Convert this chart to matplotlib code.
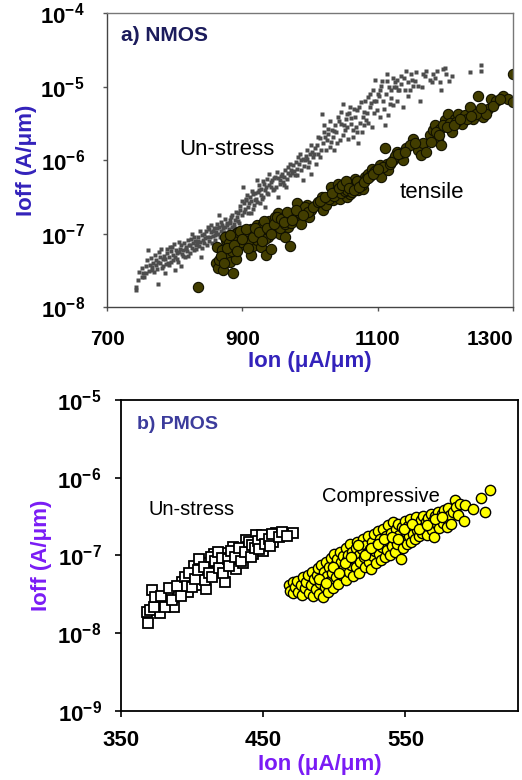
import numpy as np
import matplotlib
matplotlib.use('Agg')
import matplotlib.pyplot as plt

plt.rcParams['font.family'] = ['Liberation Sans', 'DejaVu Sans']
plt.rcParams['mathtext.fontset'] = 'custom'
plt.rcParams['mathtext.rm'] = 'Liberation Sans'
plt.rcParams['mathtext.bf'] = 'Liberation Sans:bold'

# ---------------- data (Ion in uA/um, Ioff in A/um) ----------------
# a) NMOS, un-stressed devices (small grey squares)
nmos_unstress = [
    (743, 1.72e-8), (743, 1.9e-8), (746, 2.35e-8), (751, 2.6e-8), (753, 2.9e-8), (758, 3.6e-8),
    (761, 6.0e-8), (766, 3.2e-8), (768, 4.0e-8), (773, 4.4e-8), (775, 2.1e-8), (778, 4.9e-8),
    (780, 6.3e-8), (783, 3.6e-8), (785, 2.9e-8), (788, 5.4e-8), (790, 4.0e-8), (793, 6.7e-8),
    (798, 4.4e-8), (800, 3.2e-8), (803, 5.4e-8), (807, 7.8e-8), (810, 3.6e-8), (812, 6.0e-8),
    (815, 4.9e-8), (817, 6.7e-8), (820, 8.2e-8), (822, 5.4e-8), (825, 1.0e-7), (827, 7.4e-8),
    (832, 6.3e-8), (835, 9.1e-8), (837, 1.1e-7), (839, 4.9e-8), (842, 8.2e-8), (844, 1.0e-7),
    (847, 7.0e-8), (849, 1.25e-7), (852, 9.1e-8), (857, 1.1e-7), (859, 8.2e-8), (862, 1.37e-7),
    (864, 1.0e-7), (866, 1.8e-7), (869, 1.1e-7), (871, 7.4e-8), (874, 1.25e-7), (876, 1.0e-7),
    (881, 1.53e-7), (884, 1.25e-7), (886, 8.2e-8), (889, 1.53e-7), (891, 1.1e-7), (894, 1.9e-7),
    (896, 2.1e-7), (898, 1.25e-7), (901, 4.35e-7), (903, 2.6e-7), (906, 2.9e-7), (908, 2.3e-7),
    (911, 3.2e-7), (913, 1.9e-7), (916, 3.5e-7), (918, 2.9e-7), (921, 5.4e-7), (923, 3.7e-7),
    (926, 2.6e-7), (928, 4.1e-7), (931, 3.2e-7), (933, 2.3e-7), (935, 4.35e-7), (938, 3.5e-7),
    (940, 6.6e-7), (943, 5.0e-7), (945, 3.9e-7), (948, 6.0e-7), (950, 4.35e-7), (953, 3.2e-7),
    (955, 5.4e-7), (958, 6.6e-7), (960, 5.0e-7), (963, 7.4e-7), (965, 4.35e-7), (968, 8.1e-7),
    (970, 6.3e-7), (972, 7.4e-7), (975, 8.5e-7), (977, 6.3e-7), (980, 7.7e-7), (982, 1.1e-6),
    (985, 1.23e-6), (987, 7.4e-7), (990, 5.4e-7), (992, 1.0e-6), (995, 1.37e-6), (997, 8.1e-7),
    (1000, 1.23e-6), (1002, 6.6e-7), (1004, 1.1e-6), (1007, 1.45e-6), (1009, 8.9e-7), (1012, 1.23e-6),
    (1014, 1.1e-6), (1017, 4.3e-6), (1019, 1.7e-6), (1022, 2.05e-6), (1024, 1.37e-6), (1027, 2.3e-6),
    (1029, 1.52e-6), (1032, 2.6e-6), (1034, 2.05e-6), (1036, 1.37e-6), (1039, 2.4e-6), (1041, 3.9e-6),
    (1044, 1.87e-6), (1046, 3.15e-6), (1049, 5.9e-6), (1051, 2.6e-6), (1054, 4.3e-6), (1056, 1.95e-6),
    (1059, 5.3e-6), (1061, 3.15e-6), (1064, 2.05e-6), (1066, 3.9e-6), (1068, 2.8e-6), (1071, 1.7e-6),
    (1073, 5.3e-6), (1076, 2.4e-6), (1078, 3.9e-6), (1081, 6.5e-6), (1083, 3.5e-6), (1086, 7.2e-6),
    (1088, 5.3e-6), (1091, 2.8e-6), (1093, 8.9e-6), (1096, 1.22e-5), (1098, 6.5e-6), (1100, 8.0e-6),
    (1103, 3.9e-6), (1105, 1.04e-5), (1108, 6.5e-6), (1110, 3.0e-6), (1113, 1.5e-5), (1115, 4.1e-6),
    (1118, 5.9e-6), (1120, 8.9e-6), (1123, 5.6e-6), (1125, 1.15e-5), (1128, 1.22e-5), (1130, 8.9e-6),
    (1132, 8.9e-6), (1137, 5.3e-6), (1140, 8.9e-6), (1142, 1.66e-5), (1145, 1.15e-5), (1147, 8.9e-6),
    (1152, 1.04e-5), (1157, 1.58e-5), (1160, 1.04e-5), (1162, 6.5e-6), (1167, 1.5e-5), (1172, 1.66e-5),
    (1177, 1.22e-5), (1182, 1.5e-5), (1187, 1.66e-5), (1192, 1.15e-5), (1194, 8.9e-6), (1197, 1.75e-5),
    (1201, 1.5e-5), (1209, 1.4e-5), (1236, 1.58e-5), (1253, 1.95e-5), (1253, 1.66e-5),
    (748, 3.0e-8), (755, 2.6e-8), (763, 3.8e-8), (770, 3.0e-8), (776, 4.2e-8), (781, 3.4e-8),
    (786, 4.6e-8), (792, 3.8e-8), (795, 5.8e-8), (801, 4.8e-8), (805, 4.2e-8), (808, 6.2e-8),
    (813, 5.0e-8), (818, 5.8e-8), (823, 7.0e-8), (828, 6.0e-8), (830, 8.0e-8), (833, 7.2e-8),
    (838, 7.8e-8), (840, 6.5e-8), (845, 8.8e-8), (850, 8.0e-8), (853, 1.05e-7), (855, 7.5e-8),
    (860, 9.5e-8), (863, 1.2e-7), (867, 9.0e-8), (870, 1.3e-7), (873, 1.05e-7), (877, 1.4e-7),
    (880, 1.15e-7), (883, 1.7e-7), (887, 1.35e-7), (890, 2.0e-7), (893, 1.5e-7), (897, 2.4e-7),
    (900, 1.8e-7), (904, 2.2e-7), (907, 3.4e-7), (910, 2.6e-7), (914, 3.8e-7), (917, 2.5e-7),
    (920, 3.0e-7), (924, 4.6e-7), (927, 3.4e-7), (930, 5.2e-7), (934, 4.0e-7), (937, 5.6e-7),
    (942, 4.4e-7), (946, 5.8e-7), (951, 7.0e-7), (956, 4.8e-7), (961, 6.0e-7), (966, 5.6e-7),
    (974, 6.8e-7), (979, 9.5e-7), (984, 9.0e-7), (989, 1.05e-6), (994, 1.15e-6), (999, 9.5e-7),
    (1003, 1.3e-6), (1010, 1.6e-6), (1015, 2.0e-6), (1020, 2.4e-6), (1026, 2.7e-6), (1031, 1.8e-6),
    (1037, 3.0e-6), (1043, 3.4e-6), (1048, 2.2e-6), (1053, 3.6e-6), (1058, 4.4e-6), (1063, 2.6e-6),
    (1069, 4.8e-6), (1074, 3.2e-6), (1080, 4.6e-6), (1085, 3.2e-6), (1090, 6.0e-6), (1095, 4.4e-6),
    (1102, 7.5e-6), (1107, 1.2e-5), (1112, 8.0e-6), (1117, 1.0e-5), (1122, 1.3e-5), (1127, 9.8e-6),
    (1135, 1.4e-5), (1150, 1.25e-5), (1165, 1.0e-5), (1180, 1.15e-5), (1200, 1.8e-5),
    (752, 3.4e-8), (757, 2.9e-8), (759, 4.4e-8), (762, 3.1e-8), (765, 4.7e-8), (767, 3.5e-8),
    (771, 5.2e-8), (772, 3.8e-8), (774, 3.3e-8), (777, 5.6e-8), (779, 4.0e-8), (782, 4.6e-8),
    (784, 5.0e-8), (787, 3.9e-8), (789, 6.2e-8), (791, 4.8e-8), (794, 4.2e-8), (796, 6.6e-8),
    (797, 5.2e-8), (799, 7.2e-8), (802, 6.0e-8), (804, 4.6e-8), (806, 5.6e-8), (809, 7.0e-8),
    (811, 5.3e-8), (814, 7.6e-8), (816, 6.2e-8), (819, 5.0e-8), (821, 7.0e-8), (824, 8.6e-8),
    (826, 6.4e-8), (829, 9.0e-8), (831, 7.0e-8), (834, 8.0e-8), (836, 6.8e-8), (841, 9.5e-8),
    (843, 7.6e-8), (846, 1.1e-7), (848, 9.0e-8), (851, 1.15e-7), (854, 1.3e-7), (856, 9.2e-8),
    (858, 1.2e-7), (861, 1.05e-7), (865, 1.25e-7), (868, 1.45e-7), (872, 1.2e-7), (875, 1.6e-7),
    (878, 1.3e-7), (882, 1.4e-7), (885, 1.8e-7), (888, 1.25e-7), (892, 1.7e-7), (895, 1.4e-7),
    (899, 2.8e-7), (902, 2.0e-7), (905, 3.0e-7), (909, 1.9e-7), (912, 2.8e-7), (915, 2.2e-7),
    (919, 3.6e-7), (922, 2.7e-7), (925, 3.9e-7), (929, 3.0e-7), (932, 4.8e-7), (936, 3.6e-7),
    (939, 4.6e-7), (944, 5.4e-7), (947, 4.1e-7), (952, 5.8e-7), (957, 6.2e-7), (962, 4.6e-7),
    (967, 6.8e-7), (971, 9.0e-7), (976, 7.2e-7), (981, 6.4e-7), (986, 1.0e-6), (991, 8.4e-7),
    (996, 1.05e-6), (1001, 1.6e-6), (1006, 1.2e-6), (1011, 2.1e-6), (1016, 1.4e-6), (1021, 3.0e-6),
    (1025, 1.9e-6), (1030, 3.4e-6), (1035, 2.5e-6), (1040, 1.7e-6), (1045, 4.6e-6), (1050, 3.0e-6),
    (1055, 2.8e-6), (1060, 3.8e-6), (1065, 5.0e-6), (1070, 2.4e-6), (1075, 6.2e-6), (1079, 3.0e-6),
    (1084, 4.4e-6), (1089, 8.0e-6), (1094, 6.4e-6), (1099, 4.8e-6), (1104, 9.0e-6), (1109, 5.0e-6),
    (1114, 1.2e-5), (1119, 7.0e-6), (1124, 1.0e-5), (1129, 6.4e-6), (1134, 1.1e-5), (1139, 1.3e-5),
    (1144, 7.5e-6), (1149, 1.5e-5), (1155, 1.2e-5), (1170, 1.4e-5), (1185, 1.3e-5), (1205, 1.2e-5),
]

# a) NMOS, tensile-stressed devices (olive circles)
nmos_tensile = [
    (834, 1.87e-8), (862, 6.7e-8), (861, 3.95e-8), (864, 3.4e-8), (866, 4.4e-8), (871, 3.2e-8),
    (876, 8.2e-8), (879, 5.4e-8), (881, 4.1e-8), (884, 6.7e-8), (886, 2.9e-8), (889, 1.0e-7),
    (891, 4.6e-8), (894, 6.7e-8), (896, 9.1e-8), (901, 1.1e-7), (906, 7.4e-8), (911, 1.0e-7),
    (913, 5.1e-8), (916, 6.9e-8), (921, 8.2e-8), (926, 1.25e-7), (928, 6.7e-8), (933, 1.1e-7),
    (935, 5.1e-8), (938, 9.1e-8), (943, 6.2e-8), (945, 1.53e-7), (948, 1.1e-7), (953, 1.9e-7),
    (955, 1.0e-7), (958, 1.37e-7), (963, 9.1e-8), (965, 1.8e-7), (967, 1.25e-7), (970, 6.9e-8),
    (975, 1.7e-7), (980, 2.6e-7), (982, 1.53e-7), (987, 1.37e-7), (990, 2.1e-7), (995, 2.5e-7),
    (999, 1.7e-7), (1002, 2.1e-7), (1009, 2.5e-7), (1017, 3.2e-7), (1019, 2.1e-7), (1024, 2.5e-7),
    (1031, 4.35e-7), (1034, 2.9e-7), (1039, 3.5e-7), (1041, 4.8e-7), (1044, 3.0e-7), (1049, 3.9e-7),
    (1054, 3.2e-7), (1056, 5.0e-7), (1059, 3.5e-7), (1063, 4.35e-7), (1066, 5.6e-7), (1071, 3.9e-7),
    (1073, 5.0e-7), (1078, 4.1e-7), (1081, 6.0e-7), (1086, 6.6e-7), (1091, 7.7e-7), (1098, 7.4e-7),
    (1103, 8.5e-7), (1105, 6.0e-7), (1110, 1.45e-6), (1113, 8.9e-7), (1115, 7.4e-7), (1123, 1.0e-6),
    (1128, 1.3e-6), (1132, 1.1e-6), (1137, 1.0e-6), (1142, 1.45e-6), (1152, 1.95e-6), (1160, 1.37e-6),
    (1164, 1.17e-6), (1167, 1.7e-6), (1177, 2.2e-6), (1182, 2.6e-6), (1184, 3.0e-6), (1189, 1.95e-6),
    (1192, 2.7e-6), (1194, 1.6e-6), (1199, 3.5e-6), (1204, 4.3e-6), (1209, 2.4e-6), (1214, 3.65e-6),
    (1219, 4.3e-6), (1224, 3.15e-6), (1229, 4.1e-6), (1236, 5.3e-6), (1241, 3.65e-6), (1248, 7.6e-6),
    (1251, 4.5e-6), (1256, 3.9e-6), (1263, 5.0e-6), (1268, 6.9e-6), (1275, 6.5e-6), (1285, 7.6e-6),
    (1293, 6.9e-6), (1300, 1.47e-5), (1300, 6.2e-6),
    (870, 6.0e-8), (874, 9.0e-8), (880, 7.5e-8), (885, 5.8e-8), (890, 8.5e-8), (893, 1.05e-7),
    (898, 7.8e-8), (903, 9.0e-8), (908, 8.0e-8), (912, 1.15e-7), (918, 1.0e-7), (922, 1.3e-7),
    (926, 9.5e-8), (930, 1.35e-7), (934, 8.5e-8), (938, 1.25e-7), (940, 1.5e-7), (944, 1.2e-7),
    (948, 1.7e-7), (950, 1.3e-7), (953, 1.5e-7), (956, 1.2e-7), (960, 1.6e-7), (963, 1.35e-7),
    (968, 1.55e-7), (972, 1.4e-7), (977, 1.85e-7), (985, 1.9e-7), (992, 2.3e-7), (997, 2.0e-7),
    (1005, 2.3e-7), (1012, 2.7e-7), (1028, 3.0e-7), (1036, 3.3e-7), (1040, 4.0e-7), (1046, 3.6e-7),
    (1050, 4.5e-7), (1052, 3.8e-7), (1055, 4.0e-7), (1060, 4.8e-7), (1062, 3.7e-7), (1068, 4.5e-7),
    (1070, 5.2e-7), (1076, 4.6e-7), (1083, 5.5e-7), (1088, 6.2e-7), (1095, 7.0e-7), (1108, 8.0e-7),
    (1118, 9.0e-7), (1125, 1.15e-6), (1135, 1.25e-6), (1148, 1.6e-6), (1172, 1.3e-6), (1186, 2.4e-6),
    (1196, 3.0e-6), (1206, 3.2e-6), (1216, 3.3e-6), (1232, 3.6e-6), (1245, 4.2e-6), (1260, 4.3e-6),
    (868, 5.0e-8), (873, 4.0e-8), (877, 6.5e-8), (882, 9.5e-8), (887, 7.0e-8), (892, 5.8e-8),
    (897, 1.1e-7), (900, 8.5e-8), (905, 1.15e-7), (909, 6.5e-8), (915, 9.0e-8), (919, 1.2e-7),
    (924, 1.05e-7), (929, 8.0e-8), (932, 1.5e-7), (936, 1.2e-7), (942, 1.0e-7), (946, 1.35e-7),
    (951, 1.7e-7), (957, 1.6e-7), (962, 1.45e-7), (966, 1.95e-7), (973, 1.55e-7), (979, 2.1e-7),
    (990, 1.8e-7), (1015, 2.8e-7), (1022, 3.2e-7), (1033, 3.6e-7), (1043, 4.2e-7), (1047, 4.6e-7),
    (1053, 5.2e-7), (1058, 4.2e-7), (1065, 4.0e-7), (1072, 4.4e-7), (1079, 5.0e-7), (1085, 5.8e-7),
    (1093, 6.5e-7), (1100, 7.5e-7), (1120, 9.5e-7), (1130, 1.2e-6), (1140, 1.3e-6), (1155, 1.7e-6),
    (1178, 1.8e-6), (1190, 2.2e-6), (1202, 2.8e-6), (1212, 3.0e-6), (1222, 3.6e-6), (1238, 4.0e-6),
    (1252, 5.2e-6), (1270, 5.5e-6), (1280, 6.8e-6),
]

# b) PMOS, un-stressed devices (open squares)
pmos_unstress = [
    (368, 1.87e-8), (369, 1.35e-8), (372, 3.6e-8), (375, 2.5e-8), (377.5, 1.84e-8), (380, 2.5e-8),
    (383, 2.9e-8), (387, 2.14e-8), (390, 3.2e-8), (393, 4.6e-8), (397, 3.4e-8), (399, 4.6e-8),
    (401, 7.2e-8), (406, 4.2e-8), (407, 5.8e-8), (410, 3.7e-8), (411, 7.9e-8), (415, 1.04e-7),
    (417, 6.2e-8), (420, 7.9e-8), (423, 4.6e-8), (424, 1.07e-7), (428, 8.4e-8), (429, 1.29e-7),
    (431, 6.6e-8), (432, 1.07e-7), (436, 7.9e-8), (438, 1.57e-7), (439, 1.29e-7), (443, 1.04e-7),
    (445, 1.8e-7), (448, 1.4e-7), (450, 1.13e-7), (452, 1.7e-7), (457, 1.49e-7), (459, 1.96e-7),
    (465, 1.8e-7), (471, 1.96e-7),
    (370, 2.0e-8), (373, 2.2e-8), (374, 2.9e-8), (378, 3.0e-8), (381, 2.2e-8), (384, 3.8e-8),
    (386, 2.7e-8), (389, 4.0e-8), (392, 3.0e-8), (395, 5.2e-8), (396, 4.0e-8), (398, 6.0e-8),
    (400, 3.9e-8), (402, 5.0e-8), (404, 6.5e-8), (405, 9.0e-8), (408, 7.0e-8), (409, 4.8e-8),
    (412, 6.0e-8), (413, 9.5e-8), (414, 5.3e-8), (416, 8.5e-8), (418, 1.1e-7), (419, 6.8e-8),
    (421, 9.2e-8), (422, 6.0e-8), (425, 9.0e-8), (426, 7.2e-8), (427, 1.15e-7), (430, 9.5e-8),
    (433, 1.25e-7), (434, 8.5e-8), (437, 1.1e-7), (440, 1.5e-7), (441, 9.5e-8), (442, 1.35e-7),
    (444, 1.25e-7), (446, 1.55e-7), (447, 1.2e-7), (449, 1.85e-7), (451, 1.4e-7), (454, 1.6e-7),
    (455, 1.3e-7), (456, 1.9e-7), (461, 1.7e-7), (463, 2.0e-7), (467, 1.75e-7),
]

# b) PMOS, compressive-stressed devices (yellow circles)
pmos_compressive = [
    (468.3, 4.1e-8), (469.1, 3.5e-8), (470.6, 4.5e-8), (471.2, 3.3e-8), (472.4, 3.9e-8), (474.0, 4.7e-8),
    (474.7, 3.4e-8), (476.2, 4.2e-8), (477.3, 3.1e-8), (477.9, 5.2e-8), (479.4, 3.8e-8), (480.1, 4.6e-8),
    (481.3, 5.6e-8), (481.9, 3.3e-8), (483.2, 4.2e-8), (484.6, 6.1e-8), (485.1, 3.0e-8), (485.8, 4.9e-8),
    (486.9, 3.7e-8), (487.6, 5.6e-8), (488.4, 6.8e-8), (489.0, 3.2e-8), (489.8, 4.4e-8), (490.5, 7.6e-8),
    (491.2, 5.1e-8), (491.9, 2.9e-8), (492.7, 6.2e-8), (493.3, 3.9e-8), (494.1, 8.3e-8), (494.8, 5.4e-8),
    (495.6, 3.4e-8), (496.2, 7.0e-8), (497.1, 4.7e-8), (497.8, 9.3e-8), (498.4, 6.0e-8), (499.2, 3.8e-8),
    (499.9, 1.05e-7), (500.6, 7.6e-8), (501.3, 5.2e-8), (502.0, 9.0e-8), (502.8, 4.3e-8), (503.5, 6.6e-8),
    (504.1, 1.12e-7), (504.9, 8.1e-8), (505.6, 5.6e-8), (506.3, 9.8e-8), (507.0, 6.9e-8), (507.9, 1.25e-7),
    (508.5, 4.8e-8), (509.2, 8.7e-8), (509.8, 1.02e-7), (510.6, 6.2e-8), (511.3, 1.38e-7), (512.0, 7.6e-8),
    (512.7, 1.1e-7), (513.4, 5.5e-8), (514.1, 9.0e-8), (514.9, 1.25e-7), (515.5, 7.0e-8), (516.2, 1.5e-7),
    (517.0, 1.02e-7), (517.6, 6.0e-8), (518.3, 8.3e-8), (519.1, 1.2e-7), (519.8, 1.62e-7), (520.5, 9.4e-8),
    (521.2, 7.1e-8), (522.0, 1.35e-7), (522.8, 1.08e-7), (523.4, 1.75e-7), (524.1, 8.2e-8), (524.9, 1.22e-7),
    (525.6, 6.7e-8), (526.3, 1.48e-7), (527.0, 9.8e-8), (527.8, 1.88e-7), (528.4, 1.15e-7), (529.1, 8.0e-8),
    (529.9, 1.35e-7), (530.6, 2.05e-7), (531.3, 1.05e-7), (532.0, 1.6e-7), (532.8, 8.6e-8), (533.5, 1.28e-7),
    (534.1, 2.2e-7), (534.9, 1.45e-7), (535.6, 9.6e-8), (536.3, 1.78e-7), (537.0, 1.18e-7), (537.8, 2.45e-7),
    (538.5, 1.55e-7), (539.2, 1.02e-7), (539.9, 1.95e-7), (540.7, 1.3e-7), (541.4, 2.7e-7), (542.1, 1.68e-7),
    (542.8, 1.12e-7), (543.6, 2.15e-7), (544.3, 1.42e-7), (545.0, 2.55e-7), (545.7, 1.85e-7), (546.5, 9.0e-8),
    (547.2, 2.3e-7), (547.9, 1.25e-7), (548.6, 1.6e-7), (549.4, 2.75e-7), (550.1, 2.0e-7), (550.8, 1.38e-7),
    (551.6, 2.4e-7), (552.3, 1.75e-7), (553.0, 2.9e-7), (553.8, 1.5e-7), (554.5, 2.2e-7), (555.3, 1.9e-7),
    (556.1, 2.6e-7), (556.9, 1.62e-7), (557.7, 3.1e-7), (558.4, 2.1e-7), (559.2, 1.75e-7), (560.0, 2.45e-7),
    (560.8, 2.85e-7), (561.7, 1.95e-7), (562.5, 3.2e-7), (563.3, 2.3e-7), (564.2, 2.7e-7), (565.0, 1.85e-7),
    (565.9, 3.0e-7), (566.7, 2.4e-7), (567.6, 3.4e-7), (568.5, 2.1e-7), (569.3, 2.75e-7), (570.2, 1.7e-7),
    (571.0, 3.2e-7), (571.9, 2.5e-7), (572.8, 3.6e-7), (573.7, 2.25e-7), (574.6, 2.9e-7), (575.5, 3.4e-7),
    (576.4, 2.6e-7), (577.4, 3.8e-7), (578.3, 3.0e-7), (579.3, 2.3e-7), (580.2, 4.1e-7), (581.2, 3.3e-7),
    (582.2, 2.5e-7), (583.3, 3.6e-7), (584.5, 5.1e-7), (585.6, 4.2e-7), (587.0, 3.3e-7), (588.6, 4.6e-7),
    (590.8, 2.8e-7), (592.1, 4.4e-7), (597.8, 4.0e-7), (603.0, 5.5e-7), (606.2, 3.6e-7), (609.3, 7.0e-7),
    (488.9, 5.0e-8), (493.8, 4.4e-8), (498.9, 7.0e-8), (503.1, 5.9e-8), (507.4, 8.0e-8), (511.7, 9.5e-8),
    (516.9, 1.35e-7), (521.7, 1.02e-7), (526.0, 1.25e-7), (531.0, 1.4e-7), (535.2, 1.62e-7), (540.3, 1.7e-7),
    (544.8, 1.6e-7), (549.0, 2.15e-7), (554.9, 2.5e-7), (559.5, 2.15e-7), (564.8, 2.45e-7), (570.6, 2.9e-7),
    (575.9, 3.1e-7),
]

nmos_xticks = [700, 900, 1100, 1300]
nmos_yticks = [1e-8, 1e-7, 1e-6, 1e-5, 1e-4]
pmos_xticks = [350, 450, 550]
pmos_yticks = [1e-9, 1e-8, 1e-7, 1e-6, 1e-5]


def pow_labels(vals):
    return [r'$\mathbf{10^{%d}}$' % round(np.log10(v)) for v in vals]


fig = plt.figure(figsize=(5.22, 7.8), dpi=100)

# ---------------- a) NMOS ----------------
ax1 = fig.add_axes([0.205, 0.606, 0.778, 0.377])
x, y = np.array(nmos_unstress).T
ax1.plot(x, y, 's', ms=2.7, color='#4d4d4d', mec='none')
x, y = np.array(nmos_tensile).T
ax1.plot(x, y, 'o', ms=7.4, mfc='#423d00', mec='#111100', mew=0.8)
ax1.set_yscale('log')
ax1.set_xlim(700, 1300)
ax1.set_ylim(1e-8, 1e-4)
ax1.set_xticks(nmos_xticks)
ax1.set_xticklabels([str(v) for v in nmos_xticks], fontsize=15, fontweight='bold')
# last label sits flush with the right edge, like the original
ax1.get_xticklabels()[-1].set_horizontalalignment('right')
ax1.set_yticks(nmos_yticks)
ax1.set_yticklabels(pow_labels(nmos_yticks), fontsize=16)
ax1.minorticks_off()
for s in ax1.spines.values():
    s.set_color('#777777')
    s.set_linewidth(1.0)
ax1.spines['left'].set_color('#444444')
ax1.spines['bottom'].set_color('#444444')
ax1.tick_params(direction='out', length=3, width=1, color='#555555', pad=13)
ax1.set_xlabel('Ion (\u03bcA/\u03bcm)', fontsize=16, fontweight='bold', color='#3322bb', labelpad=2)
ax1.set_ylabel('Ioff (A/\u03bcm)', fontsize=16, fontweight='bold', color='#3322bb', labelpad=2)
ax1.text(0.034, 0.925, 'a) NMOS', transform=ax1.transAxes, fontsize=15, fontweight='bold',
         color='#1c1c5c', va='center')
ax1.text(807, 1.4e-6, 'Un-stress', fontsize=16, va='center')
ax1.text(1132, 3.6e-7, 'tensile', fontsize=16, va='center')

# ---------------- b) PMOS ----------------
ax2 = fig.add_axes([0.232, 0.0885, 0.760, 0.399])
x, y = np.array(pmos_unstress).T
ax2.plot(x, y, 's', ms=7.0, mfc='white', mec='black', mew=1.3)
x, y = np.array(pmos_compressive).T
ax2.plot(x, y, 'o', ms=7.4, mfc='#ffff00', mec='black', mew=1.0)
ax2.set_yscale('log')
ax2.set_xlim(350, 629)
ax2.set_ylim(1e-9, 1e-5)
ax2.set_xticks(pmos_xticks)
ax2.set_xticklabels([str(v) for v in pmos_xticks], fontsize=16, fontweight='bold')
ax2.set_yticks(pmos_yticks)
ax2.set_yticklabels(pow_labels(pmos_yticks), fontsize=16)
ax2.minorticks_off()
for s in ax2.spines.values():
    s.set_color('black')
    s.set_linewidth(1.3)
ax2.tick_params(direction='out', length=4, width=1.2, pad=10)
ax2.set_xlabel('Ion (\u03bcA/\u03bcm)', fontsize=16, fontweight='bold', color='#7a1cf5', labelpad=2)
ax2.set_ylabel('Ioff (A/\u03bcm)', fontsize=16, fontweight='bold', color='#7a1cf5', labelpad=4)
ax2.text(0.04, 0.92, 'b) PMOS', transform=ax2.transAxes, fontsize=14, fontweight='bold',
         color='#3c3c9c', va='center')
ax2.text(369, 3.9e-7, 'Un-stress', fontsize=14.5, va='center')
ax2.text(491, 5.75e-7, 'Compressive', fontsize=14.5, va='center')

fig.savefig('out.png', dpi=100)
